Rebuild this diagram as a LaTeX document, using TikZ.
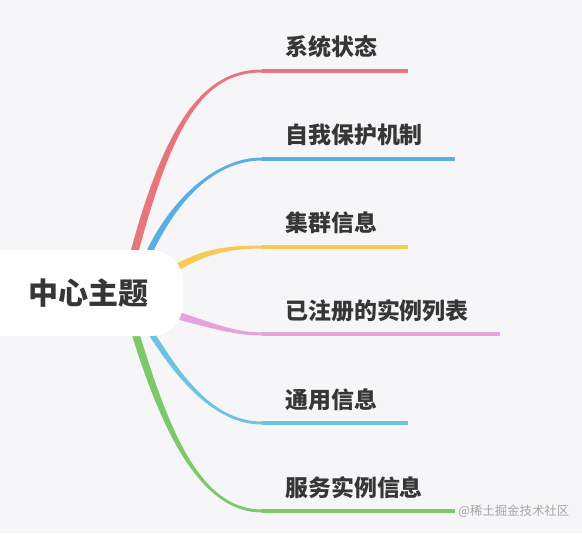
\documentclass[tikz,border=0pt]{standalone}
\usepackage{fontspec}
\setmainfont{Noto Sans CJK SC}
\definecolor{bg}{HTML}{F6F6F8}
\definecolor{txt}{HTML}{363636}
\definecolor{cred}{HTML}{E8747C}
\definecolor{cblue}{HTML}{5AAEE2}
\definecolor{cyel}{HTML}{F5CB55}
\definecolor{cpink}{HTML}{E6A2DA}
\definecolor{clblue}{HTML}{6EC3E2}
\definecolor{cgreen}{HTML}{7CC96C}
\tikzset{
  lbl/.style={anchor=west, inner sep=0pt, text=txt, font=\fontsize{17.2pt}{19pt}\selectfont\bfseries},
  uline/.style={line width=2.3pt},
}
\begin{document}
\begin{tikzpicture}[x=0.75pt,y=-0.75pt]
\useasboundingbox (0,0) rectangle (582,533);
\fill[bg] (0,0) rectangle (582,533);
% branch ends
\coordinate (e1) at (262,71);  \coordinate (f1) at (408,71);
\coordinate (e2) at (262,159); \coordinate (f2) at (455,159);
\coordinate (e3) at (262,247); \coordinate (f3) at (408,247);
\coordinate (e4) at (262,334); \coordinate (f4) at (500,334);
\coordinate (e5) at (262,423); \coordinate (f5) at (408,423);
\coordinate (e6) at (262,511); \coordinate (f6) at (455,511);
% tapered curves
\fill[cred] (139,250) .. controls (174,120) and (205,72.5) .. (262,72.5) -- (262,69.5) .. controls (205,69.5) and (166,120) .. (131,250) -- cycle;
\fill[cblue] (154,250) .. controls (178,200) and (215,160.5) .. (262,160.5) -- (262,157.5) .. controls (215,157.5) and (171,200) .. (147,250) -- cycle;
\fill[cyel] (176,272) .. controls (205,254) and (230,248.5) .. (262,248.5) -- (262,245.5) .. controls (230,245.5) and (205,248) .. (176,264) -- cycle;
\fill[cpink] (176,311) .. controls (210,322) and (235,332.5) .. (262,332.5) -- (262,335.5) .. controls (235,335.5) and (210,328) .. (176,319) -- cycle;
\fill[clblue] (154,332) .. controls (184,380) and (215,421.5) .. (262,421.5) -- (262,424.5) .. controls (215,424.5) and (177,380) .. (147,332) -- cycle;
\fill[cgreen] (139,332) .. controls (169,430) and (200,509.5) .. (262,509.5) -- (262,512.5) .. controls (200,512.5) and (161,430) .. (131,332) -- cycle;
% underlines
\draw[uline,cred] (e1) -- (f1);
\draw[uline,cblue] (e2) -- (f2);
\draw[uline,cyel] (e3) -- (f3);
\draw[uline,cpink] (e4) -- (f4);
\draw[uline,clblue] (e5) -- (f5);
\draw[uline,cgreen] (e6) -- (f6);
% central node
\fill[white, rounded corners=24] (-30,250) rectangle (183,336);
\node[inner sep=0pt, text=txt, font=\fontsize{22.5pt}{26pt}\selectfont\bfseries] (c) at (88,293) {中心主题};
% labels
\node[lbl] (l1) at (285,47) {系统状态};
\node[lbl] (l2) at (285,135) {自我保护机制};
\node[lbl] (l3) at (285,223) {集群信息};
\node[lbl] (l4) at (285,311) {已注册的实例列表};
\node[lbl] (l5) at (285,400) {通用信息};
\node[lbl] (l6) at (285,488) {服务实例信息};
\node[anchor=west, inner sep=0pt, text=black!35, font=\fontsize{9.3pt}{11pt}\selectfont] (wm) at (458,511) {@稀土掘金技术社区};
\end{tikzpicture}
\end{document}
